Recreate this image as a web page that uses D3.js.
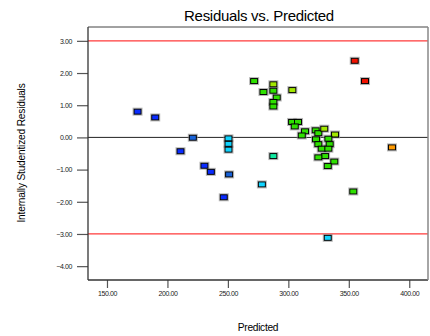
<!DOCTYPE html>
<html>
<head>
<meta charset="utf-8">
<script src="https://cdn.jsdelivr.net/npm/d3@7"></script>
<style>
  html, body { margin: 0; padding: 0; background: #fff; }
  svg { display: block; }
  text { font-family: "Liberation Sans", Arial, sans-serif; }
</style>
</head>
<body>
<svg id="chart" width="430" height="336"></svg>
<script>
// ---- data ----
const predicted = [175.3, 189.9, 210.8, 221.0, 230.6, 235.9, 246.6, 251.0, 250.5, 250.5, 250.5,
  278.1, 287.6, 332.6, 271.7, 287.6, 279.4, 287.6, 290.4, 287.6, 287.6, 303.3, 303.1, 308.0,
  305.3, 313.8, 311.1, 322.6, 324.8, 329.7, 338.6, 322.9, 324.8, 333.1, 334.2, 327.6, 333.1,
  330.4, 324.8, 338.0, 332.6, 353.7, 354.9, 363.4, 385.7];
const residuals = [0.80, 0.62, -0.43, -0.01, -0.88, -1.07, -1.86, -1.15, -0.03, -0.20, -0.38,
  -1.46, -0.58, -3.12, 1.75, 1.65, 1.41, 1.45, 1.24, 1.10, 0.96, 1.47, 0.48, 0.48,
  0.34, 0.19, 0.06, 0.22, 0.13, 0.27, 0.09, -0.06, -0.21, -0.04, -0.21, -0.35, -0.35,
  -0.58, -0.62, -0.75, -0.89, -1.68, 2.38, 1.75, -0.31];
const colorGroup = ["blue", "blue", "blue", "mblue", "blue", "blue", "blue", "mblue", "cyan", "cyan", "cyan",
  "cyan", "teal", "cyan", "green", "ygreen", "green", "green", "green", "green", "green", "ygreen", "green", "green",
  "green", "green", "green", "green", "green", "ygreen", "ygreen", "green", "green", "green", "green", "green", "green",
  "green", "green", "green", "green", "green", "red", "red", "orange"];
const xTicks = [150, 200, 250, 300, 350, 400];
const yTicks = [3, 2, 1, 0, -1, -2, -3, -4];
const limits = [3, -3];

const palette = {
  blue: "#0a2cff", mblue: "#1862d8", cyan: "#10d4ff", teal: "#10e8a0",
  green: "#2ee000", ygreen: "#a2e800", orange: "#ff9a00", red: "#f01200"
};

// ---- layout ----
const L = 88, T = 27, R = 428, B = 280;
const svg = d3.select("#chart");
const x = d3.scaleLinear().domain([134.3, 415.5]).range([L, R]);
const y = d3.scaleLinear().domain([-4.43, 3.43]).range([B, T]);

// title
svg.append("text").attr("x", 259).attr("y", 21).attr("text-anchor", "middle")
  .attr("font-size", 15).attr("letter-spacing", -0.3).attr("fill", "#000")
  .text("Residuals vs. Predicted");

// y label
svg.append("text").attr("transform", "translate(25,153) rotate(-90)")
  .attr("text-anchor", "middle").attr("font-size", 10.2).attr("letter-spacing", -0.2)
  .attr("fill", "#000").text("Internally Studentized Residuals");

// x label
svg.append("text").attr("x", 258).attr("y", 331).attr("text-anchor", "middle")
  .attr("font-size", 10.2).attr("letter-spacing", -0.3).attr("fill", "#000").text("Predicted");

// axes
const yAxis = d3.axisLeft(y).tickValues(yTicks).tickSizeOuter(0).tickSizeInner(11)
  .tickPadding(5).tickFormat(d3.format(".2f"));
const gy = svg.append("g").attr("transform", `translate(${L},0)`).call(yAxis);
const xAxis = d3.axisBottom(x).tickValues(xTicks).tickSizeOuter(0).tickSizeInner(8)
  .tickPadding(3).tickFormat(d3.format(".2f"));
const gx = svg.append("g").attr("transform", `translate(0,${B})`).call(xAxis);
[gx, gy].forEach(g => {
  g.select(".domain").remove();
  g.selectAll(".tick line").attr("stroke", "#555").attr("stroke-width", 1.2);
  g.selectAll(".tick text").attr("font-size", 7).attr("letter-spacing", -0.4)
    .attr("fill", "#222").style("font-family", "'Liberation Sans', Arial, sans-serif");
});

// zero line
svg.append("line").attr("x1", L).attr("x2", R).attr("y1", y(0)).attr("y2", y(0))
  .attr("stroke", "#222").attr("stroke-width", 1);
// limit lines
svg.selectAll(".lim").data(limits).enter().append("line")
  .attr("x1", L).attr("x2", R).attr("y1", d => y(d)).attr("y2", d => y(d))
  .attr("stroke", "#ff3a3a").attr("stroke-width", 1.2);

// frame
svg.append("line").attr("x1", L).attr("x2", L).attr("y1", T).attr("y2", B)
  .attr("stroke", "#333").attr("stroke-width", 1.3);
svg.append("line").attr("x1", L).attr("x2", R).attr("y1", B).attr("y2", B)
  .attr("stroke", "#333").attr("stroke-width", 1.3);
svg.append("line").attr("x1", L).attr("x2", R).attr("y1", T).attr("y2", T)
  .attr("stroke", "#444").attr("stroke-width", 1);
svg.append("line").attr("x1", R).attr("x2", R).attr("y1", T).attr("y2", B)
  .attr("stroke", "#888").attr("stroke-width", 1.5);

// points
const pts = predicted.map((p, i) => ({ p, r: residuals[i], c: colorGroup[i] }));
const W = 7, H = 5;
svg.append("g").selectAll("rect").data(pts).enter().append("rect")
  .attr("x", d => x(d.p) - W / 2 - 1).attr("y", d => y(d.r) - H / 2 - 1)
  .attr("width", W + 2).attr("height", H + 2)
  .attr("fill", "none").attr("stroke", "#999").attr("stroke-opacity", 0.7).attr("stroke-width", 1);
svg.append("g").selectAll("rect").data(pts).enter().append("rect")
  .attr("x", d => x(d.p) - W / 2).attr("y", d => y(d.r) - H / 2)
  .attr("width", W).attr("height", H)
  .attr("fill", d => palette[d.c]).attr("stroke", "#000").attr("stroke-width", 1);
</script>
</body>
</html>
